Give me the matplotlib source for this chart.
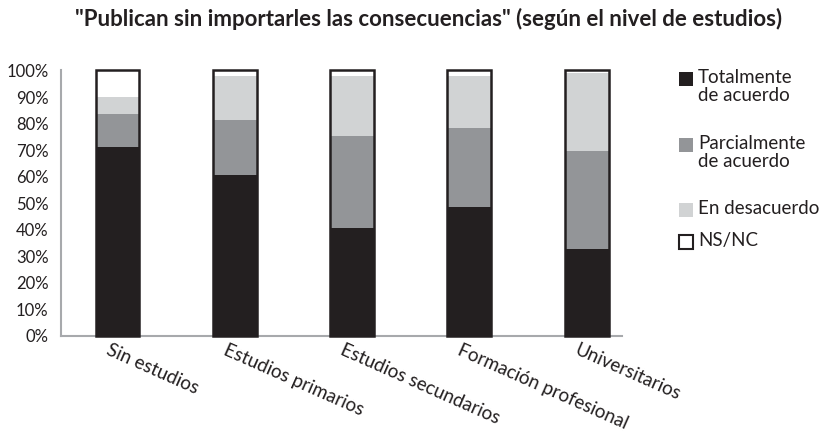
import matplotlib
matplotlib.use("Agg")
import matplotlib.pyplot as plt
import numpy as np
from matplotlib.patches import Rectangle
from matplotlib.transforms import ScaledTranslation

plt.rcParams['font.family'] = ['Lato', 'DejaVu Sans']

title = '"Publican sin importarles las consecuencias" (según el nivel de estudios)'
categories = ["Sin estudios", "Estudios primarios", "Estudios secundarios",
              "Formación profesional", "Universitarios"]
series_names = ["Totalmente\nde acuerdo", "Parcialmente\nde acuerdo", "En desacuerdo", "NS/NC"]
totalmente = [71.2, 60.6, 40.6, 48.6, 32.7]
parcialmente = [12.4, 20.7, 34.7, 29.7, 36.9]
desacuerdo = [6.4, 16.7, 22.7, 19.7, 29.4]
nsnc = [10.0, 2.0, 2.0, 2.0, 1.0]
yticks = [0, 10, 20, 30, 40, 50, 60, 70, 80, 90, 100]
ytick_labels = [f"{v}%" for v in yticks]

colors = ["#231f20", "#939598", "#d1d3d4", "#ffffff"]
edge = "#231f20"
axis_col = "#a7a9ac"

fig = plt.figure(figsize=(8.34, 4.43), dpi=100)
ax = fig.add_axes([0.0731, 0.2422, 0.6724, 0.5987])

x = np.arange(len(categories))
w = 0.375
series = [totalmente, parcialmente, desacuerdo, nsnc]
bottom = np.zeros(len(categories))
for vals, c in zip(series, colors):
    ax.bar(x, vals, w, bottom=bottom, color=c, edgecolor='none', linewidth=0, zorder=2)
    bottom = bottom + np.array(vals)
ax.bar(x, bottom, w, fill=False, edgecolor=edge, linewidth=1.8, zorder=3, clip_on=False)

ax.set_xlim(-0.482, 4.30)
ax.set_ylim(0, 100)
ax.set_yticks(yticks)
ax.set_yticklabels(ytick_labels, fontsize=12, color="#231f20")
ax.tick_params(axis='y', length=0, pad=9)
ax.tick_params(axis='x', length=0, pad=4)
ax.set_xticks(x)
ax.set_xticklabels(categories, fontsize=13.5, color="#231f20", rotation=-24,
                   ha='left', va='top', rotation_mode='anchor')
off = ScaledTranslation(-7 / 100, 0, fig.dpi_scale_trans)
for lbl in ax.get_xticklabels():
    lbl.set_transform(lbl.get_transform() + off)

for s in ['top', 'right']:
    ax.spines[s].set_visible(False)
for s in ['left', 'bottom']:
    ax.spines[s].set_color(axis_col)
    ax.spines[s].set_linewidth(1.5)
    ax.spines[s].set_zorder(1)

fig.text(0.514, 0.958, title, ha='center', va='center', fontsize=16,
         fontweight='bold', color="#231f20")

# manual legend
W, H = 834, 443
leg_items = [(72, colors[0], series_names[0]), (138, colors[1], series_names[1]),
             (203, colors[2], series_names[2]), (235, colors[3], series_names[3])]
for ytop, c, name in leg_items:
    sq = 14
    fig.add_artist(Rectangle((679 / W, 1 - (ytop + sq) / H), sq / W, sq / H,
                             transform=fig.transFigure, facecolor=c,
                             edgecolor=edge if c == "#ffffff" else 'none',
                             linewidth=1.5))
    fig.text(698 / W, 1 - (ytop - 3) / H, name, ha='left', va='top',
             fontsize=13.5, color="#231f20", linespacing=1.05)

fig.savefig("out.png", dpi=100)
